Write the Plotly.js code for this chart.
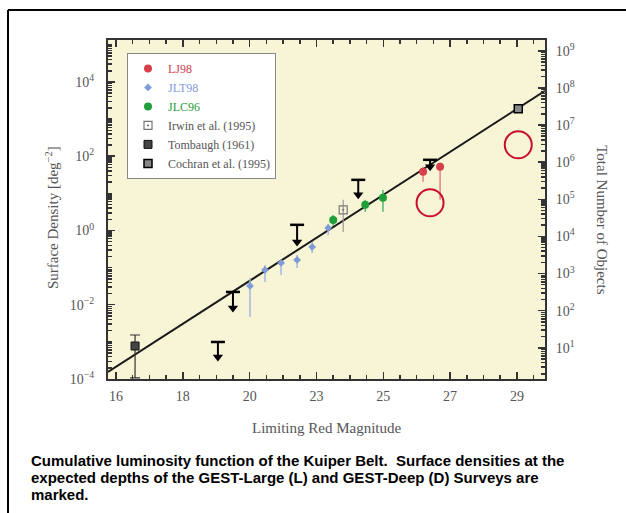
<!DOCTYPE html>
<html>
<head>
<meta charset="utf-8">
<script src="https://cdn.plot.ly/plotly-3.0.1.min.js"></script>
<style>html,body{margin:0;padding:0;background:#fff;}#chart{width:626px;height:513px;}</style>
</head>
<body>
<div id="chart"></div>
<script>
// ---- Axis ticks ----
const xTickVals = [16, 18, 20, 22, 24, 26, 28];
const xTickText = ['16', '18', '20', '23', '25', '27', '29'];
const leftTickVals = [1e-4, 1e-2, 1, 1e2, 1e4];
const leftTickText = ['10<sup>\u22124</sup>', '10<sup>\u22122</sup>', '10<sup>0</sup>', '10<sup>2</sup>', '10<sup>4</sup>'];
const rightTickVals = [1e1, 1e2, 1e3, 1e4, 1e5, 1e6, 1e7, 1e8, 1e9];
const rightTickText = ['10<sup>1</sup>', '10<sup>2</sup>', '10<sup>3</sup>', '10<sup>4</sup>', '10<sup>5</sup>', '10<sup>6</sup>', '10<sup>7</sup>', '10<sup>8</sup>', '10<sup>9</sup>'];

// ---- Data (limiting red magnitude, surface density deg^-2) ----
const ljMag = [25.19, 25.70];
const ljDens = [38.0, 51.8];
const ljHigh = [51.8, 66.4];
const ljLow = [20.4, 6.7];

const jltMag = [20.01, 20.46, 20.94, 21.42, 21.87, 22.35];
const jltDens = [0.0321, 0.0867, 0.134, 0.161, 0.361, 1.17];
const jltHigh = [0.0527, 0.118, 0.161, 0.220, 0.493, 1.51];
const jltLow = [0.00469, 0.0412, 0.0635, 0.0982, 0.249, 0.760];

const jlcMag = [22.50, 23.46, 23.99];
const jlcDens = [1.93, 4.90, 7.57];
const jlcHigh = [2.63, 6.68, 12.4];
const jlcLow = [1.33, 3.17, 3.17];

const irwinMag = [22.80];
const irwinDens = [3.59];
const irwinHigh = [6.68];
const irwinLow = [0.916];

const tombMag = [16.57];
const tombDens = [7.74e-4];
const tombHigh = [1.53e-3];
const tombLow = [1.07e-4];

const cochMag = [28.04];
const cochDens = [1900];

// upper limits: bar value and arrow-head position
const limMag = [19.05, 19.50, 21.42, 23.25, 25.40];
const limDens = [9.93e-4, 0.0221, 1.42, 23.1, 80.0];
const limArrow = [3.92e-4, 8.20e-3, 0.493, 9.12, 51.8];

// model line
const lineMag = [15.76, 28.84];
const lineDens = [1.55e-4, 5754];

// GEST survey depths (marked by circles)
const gestMag = [25.40, 28.04];
const gestDens = [5.55, 203];

// caption
const captionLines = [
  'Cumulative luminosity function of the Kuiper Belt.\u00a0 Surface densities at the',
  'expected depths of the GEST-Large (L) and GEST-Deep (D) Surveys are',
  'marked.'
];

function errs(v, hi, lo) {
  return {
    type: 'data', symmetric: false,
    array: hi.map((h, i) => h - v[i]),
    arrayminus: lo.map((l, i) => v[i] - l)
  };
}

const serif = 'Liberation Serif, Times New Roman, serif';

const traces = [
  { x: lineMag, y: lineDens, mode: 'lines', line: {color: '#1a1a1a', width: 2}, showlegend: false, hoverinfo: 'skip' },
  { x: limMag, y: limDens, mode: 'markers', showlegend: false,
    marker: {symbol: 'line-ew-open', size: 10, color: '#000', line: {color: '#000', width: 2.5}},
    error_y: Object.assign(errs(limDens, limDens, limArrow), {color: '#000', thickness: 2, width: 0}) },
  { x: limMag, y: limArrow, mode: 'markers', showlegend: false,
    marker: {symbol: 'triangle-down', size: 9, color: '#000'} },
  { x: ljMag, y: ljDens, mode: 'markers', name: '<span style="color:#d6404a">LJ98</span>',
    marker: {symbol: 'circle', size: 8, color: '#d6404a'},
    error_y: Object.assign(errs(ljDens, ljHigh, ljLow), {color: '#e08088', thickness: 1.5, width: 0}) },
  { x: jltMag, y: jltDens, mode: 'markers', name: '<span style="color:#7f9bd6">JLT98</span>',
    marker: {symbol: 'diamond', size: 6, color: '#7f9bd6'},
    error_y: Object.assign(errs(jltDens, jltHigh, jltLow), {color: '#a3b7e3', thickness: 1.5, width: 0}) },
  { x: jlcMag, y: jlcDens, mode: 'markers', name: '<span style="color:#1f9e3a">JLC96</span>',
    marker: {symbol: 'circle', size: 8, color: '#1f9e3a'},
    error_y: Object.assign(errs(jlcDens, jlcHigh, jlcLow), {color: '#4fb866', thickness: 1.5, width: 0}) },
  { x: irwinMag, y: irwinDens, mode: 'markers', name: 'Irwin et al. (1995)',
    marker: {symbol: 'square-open-dot', size: 8, color: '#777', line: {width: 1.2}},
    error_y: Object.assign(errs(irwinDens, irwinHigh, irwinLow), {color: '#999', thickness: 1.2, width: 0}) },
  { x: tombMag, y: tombDens, mode: 'markers', name: 'Tombaugh (1961)',
    marker: {symbol: 'square', size: 8, color: '#444', line: {color: '#111', width: 1}},
    error_y: Object.assign(errs(tombDens, tombHigh, tombLow), {color: '#333', thickness: 1.2, width: 5}) },
  { x: cochMag, y: cochDens, mode: 'markers', name: 'Cochran et al. (1995)',
    marker: {symbol: 'square', size: 8, color: '#888', line: {color: '#000', width: 1.5}} },
  { x: gestMag, y: gestDens, mode: 'markers', showlegend: false,
    marker: {symbol: 'circle-open', size: 27, color: '#c8102e', line: {width: 2, color: '#c8102e'}} },
  // empty trace so the right-hand (total number) axis is drawn
  { x: [], y: [], yaxis: 'y2', mode: 'markers', showlegend: false, hoverinfo: 'skip' }
];

const axisCommon = {
  showline: true, linecolor: '#333', linewidth: 2, ticks: 'inside', tickcolor: '#333',
  tickwidth: 1.5, showgrid: false, zeroline: false,
  tickfont: {family: serif, size: 14, color: '#555'}
};

const annotations = [
  {xref: 'paper', yref: 'paper', x: 0.5, y: -0.145, text: 'Limiting Red Magnitude', showarrow: false,
   font: {family: serif, size: 15, color: '#555'}, xanchor: 'center', yanchor: 'middle'},
  {xref: 'paper', yref: 'paper', x: -0.128, y: 0.475, text: 'Surface Density [deg<sup>\u22122</sup>]', showarrow: false,
   textangle: -90, font: {family: serif, size: 15, color: '#555'}, xanchor: 'center', yanchor: 'middle'},
  {xref: 'paper', yref: 'paper', x: 1.13, y: 0.469, text: 'Total Number of Objects', showarrow: false,
   textangle: 90, font: {family: serif, size: 15, color: '#555'}, xanchor: 'center', yanchor: 'middle'}
];
const capY = [460, 477, 494];
captionLines.forEach((t, i) => {
  annotations.push({xref: 'paper', yref: 'paper', x: (29 - 108) / 437, y: (379 - capY[i]) / 339,
    text: '<b>' + t + '</b>', showarrow: false, xanchor: 'left', yanchor: 'middle', align: 'left',
    font: {family: 'Liberation Sans, Arial, sans-serif', size: 15, color: '#000'}});
});

const layout = {
  width: 626, height: 513,
  margin: {l: 108, r: 81, t: 40, b: 134},
  paper_bgcolor: '#fff', plot_bgcolor: '#f8f5d6',
  showlegend: true,
  legend: {x: 0.0435, y: 0.962, xanchor: 'left', yanchor: 'top', bgcolor: '#fff',
    bordercolor: '#888', borderwidth: 1, font: {family: serif, size: 12, color: '#555'}, tracegroupgap: 0},
  xaxis: Object.assign({}, axisCommon, {
    range: [15.76, 28.84], tickmode: 'array', tickvals: xTickVals, ticktext: xTickText,
    ticklen: 7, mirror: 'ticks', ticklabelstandoff: 3,
    minor: {ticks: 'inside', dtick: 0.5, tick0: 16, ticklen: 4, tickcolor: '#333'}
  }),
  yaxis: Object.assign({}, axisCommon, {
    type: 'log', range: [-4, 5.13], tickmode: 'array', tickvals: leftTickVals, ticktext: leftTickText,
    ticklen: 7, ticklabelstandoff: 9,
    minor: {ticks: 'inside', dtick: 'D1', ticklen: 4, tickcolor: '#333'}
  }),
  yaxis2: Object.assign({}, axisCommon, {
    type: 'log', range: [0.16, 9.29], overlaying: 'y', side: 'right', anchor: 'x',
    tickmode: 'array', tickvals: rightTickVals, ticktext: rightTickText, ticklen: 7, ticklabelstandoff: 6,
    minor: {ticks: 'inside', dtick: 'D1', ticklen: 4, tickcolor: '#333'}
  }),
  annotations: annotations,
  shapes: [
    {type: 'line', xref: 'paper', yref: 'paper', x0: (8 - 108) / 437, x1: 1.25, y0: (379 - 10) / 339, y1: (379 - 10) / 339,
     line: {color: '#000', width: 2}},
    {type: 'line', xref: 'paper', yref: 'paper', x0: (8 - 108) / 437, x1: (8 - 108) / 437, y0: (379 - 10) / 339, y1: -0.5,
     line: {color: '#000', width: 2}}
  ]
};

Plotly.newPlot('chart', traces, layout, {displayModeBar: false, staticPlot: true});
</script>
</body>
</html>
